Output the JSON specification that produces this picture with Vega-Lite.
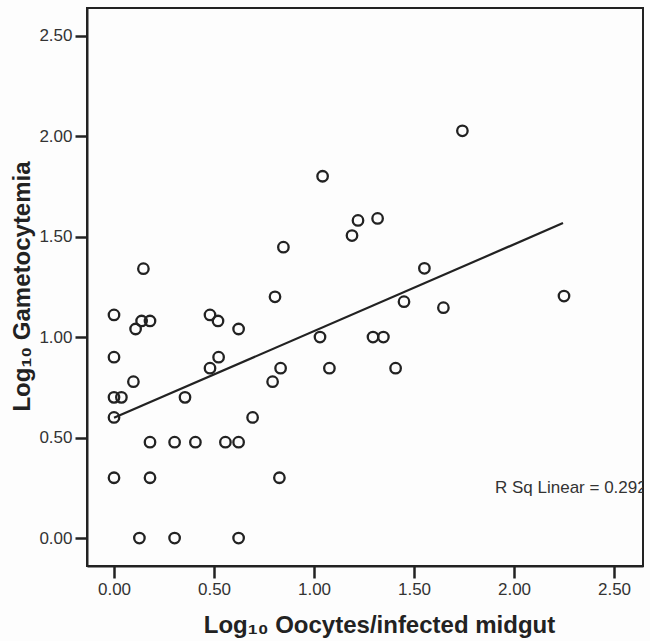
{
  "$schema": "https://vega.github.io/schema/vega-lite/v6.json",
  "autosize": "none",
  "width": 556,
  "height": 558,
  "padding": {"left": 87, "top": 8, "right": 7, "bottom": 75},
  "background": "#fdfdfd",
  "config": {
    "view": {"stroke": "#222", "strokeWidth": 2},
    "axis": {
      "domainColor": "#222", "domainWidth": 2, "tickColor": "#222", "tickWidth": 2.5, "tickSize": 12,
      "labelFont": "Liberation Sans", "labelFontSize": 17, "labelColor": "#333", "labelPadding": 3,
      "titleFont": "Liberation Sans", "titleFontSize": 24, "titleFontWeight": "bold", "titleColor": "#222",
      "grid": false
    }
  },
  "datasets": {
    "pts": [
      {"x": 0, "y": 1.11}, {"x": 0, "y": 0.90}, {"x": 0, "y": 0.70}, {"x": 0, "y": 0.60}, {"x": 0, "y": 0.30},
      {"x": 0.037, "y": 0.70}, {"x": 0.097, "y": 0.778}, {"x": 0.108, "y": 1.04}, {"x": 0.138, "y": 1.08},
      {"x": 0.147, "y": 1.34}, {"x": 0.18, "y": 1.08}, {"x": 0.127, "y": 0}, {"x": 0.18, "y": 0.477},
      {"x": 0.18, "y": 0.30}, {"x": 0.303, "y": 0.477}, {"x": 0.303, "y": 0}, {"x": 0.355, "y": 0.70},
      {"x": 0.407, "y": 0.477}, {"x": 0.48, "y": 1.11}, {"x": 0.48, "y": 0.845}, {"x": 0.52, "y": 1.08},
      {"x": 0.523, "y": 0.90}, {"x": 0.557, "y": 0.477}, {"x": 0.623, "y": 0.477}, {"x": 0.623, "y": 1.04},
      {"x": 0.623, "y": 0}, {"x": 0.693, "y": 0.60}, {"x": 0.793, "y": 0.778}, {"x": 0.805, "y": 1.20},
      {"x": 0.827, "y": 0.30}, {"x": 0.833, "y": 0.845}, {"x": 0.847, "y": 1.447}, {"x": 1.03, "y": 1.0},
      {"x": 1.043, "y": 1.80}, {"x": 1.077, "y": 0.845}, {"x": 1.19, "y": 1.505}, {"x": 1.22, "y": 1.58},
      {"x": 1.295, "y": 1.0}, {"x": 1.318, "y": 1.59}, {"x": 1.347, "y": 1.0}, {"x": 1.408, "y": 0.845},
      {"x": 1.45, "y": 1.176}, {"x": 1.552, "y": 1.342}, {"x": 1.647, "y": 1.146}, {"x": 1.742, "y": 2.026},
      {"x": 2.25, "y": 1.204}
    ],
    "fit": [{"x": 0, "y": 0.598}, {"x": 2.245, "y": 1.567}],
    "note": [{"x": 1.905, "y": 0.25, "label": "R Sq Linear = 0.292"}]
  },
  "layer": [
    {
      "data": {"name": "fit"},
      "mark": {"type": "line", "color": "#222", "strokeWidth": 2.2},
      "encoding": {
        "x": {"field": "x", "type": "quantitative"},
        "y": {"field": "y", "type": "quantitative"}
      }
    },
    {
      "data": {"name": "pts"},
      "mark": {"type": "point", "shape": "circle", "filled": false, "color": "#222", "strokeWidth": 2.3, "size": 110, "opacity": 1},
      "encoding": {
        "x": {"field": "x", "type": "quantitative",
          "scale": {"domain": [-0.135, 2.645], "nice": false, "zero": false},
          "axis": {"values": [0, 0.5, 1, 1.5, 2, 2.5], "format": ".2f", "title": "Log₁₀ Oocytes/infected midgut", "titlePadding": 16, "titleX": 292}},
        "y": {"field": "y", "type": "quantitative",
          "scale": {"domain": [-0.139, 2.637], "nice": false, "zero": false},
          "axis": {"values": [0, 0.5, 1, 1.5, 2, 2.5], "format": ".2f", "title": "Log₁₀ Gametocytemia", "titlePadding": 4, "titleY": 278}}
      }
    },
    {
      "data": {"name": "note"},
      "mark": {"type": "text", "align": "left", "baseline": "middle", "font": "Liberation Sans", "fontSize": 17, "color": "#333", "clip": true},
      "encoding": {
        "x": {"field": "x", "type": "quantitative"},
        "y": {"field": "y", "type": "quantitative"},
        "text": {"field": "label"}
      }
    }
  ]
}
